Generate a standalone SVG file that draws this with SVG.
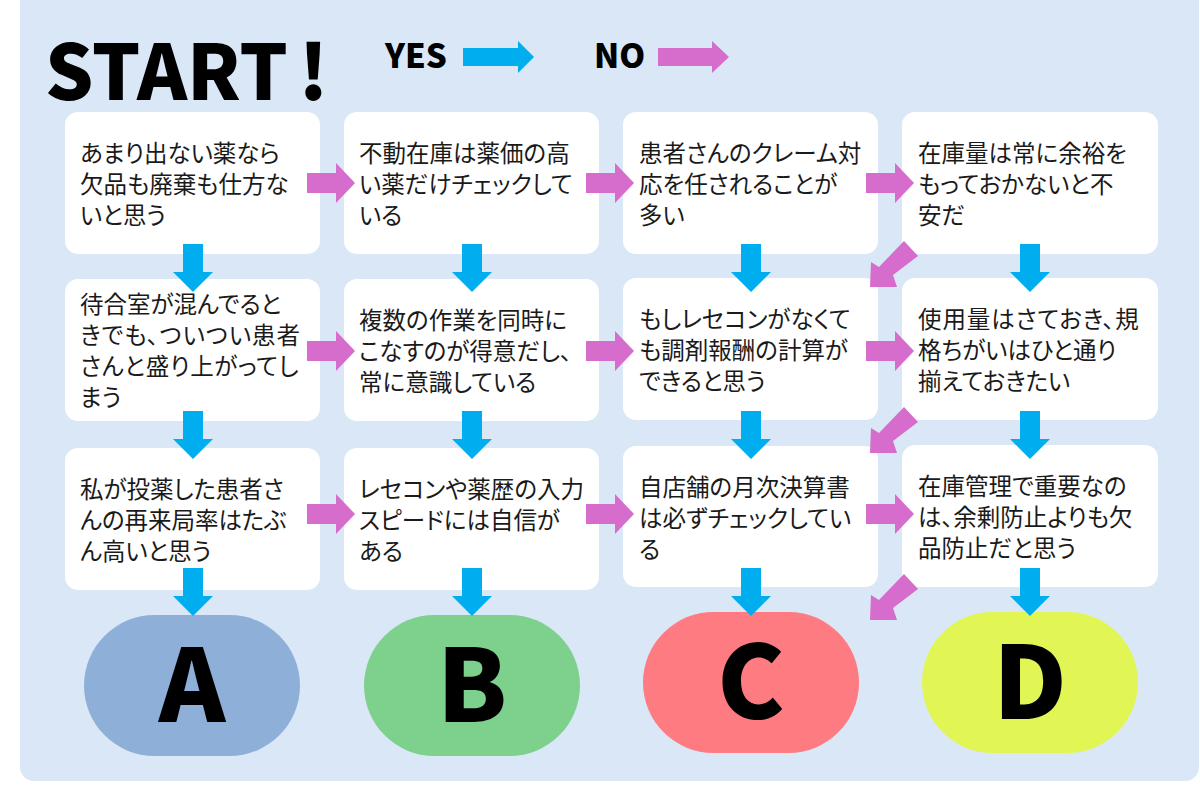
<svg xmlns="http://www.w3.org/2000/svg" width="1200" height="806" viewBox="0 0 1200 806">
<style>
.box{fill:#fff}
.t{font-family:"Noto Sans CJK JP","Noto Sans",sans-serif;font-size:23.5px;font-weight:400;font-feature-settings:"palt";fill:#1a1a1a}
.h{font-family:"Noto Sans CJK JP","Noto Sans",sans-serif;font-weight:900;fill:#000}
.b{fill:#00aef0}
.p{fill:#d66ccb}
.l{font-size:101px;text-anchor:middle}
</style>
<defs>
<polygon id="r" class="p" points="0,-10 29,-10 29,-20 48,0 29,20 29,10 0,10"/>
<polygon id="d" class="b" points="-10,0 10,0 10,28 20,28 0,48 -20,28 -10,28"/>
<polygon id="g" class="p" points="34,-46 48,-31 23,-12 27,0 0,0 1,-25 9,-20"/>
</defs>
<rect width="1200" height="806" fill="#fff"/>
<rect id="panel" x="20" y="-20" width="1179" height="801" rx="14" fill="#dae7f6"/>
<text class="h" x="45" y="100" font-size="76" word-spacing="-7">START !</text>
<g id="legend">
<text class="h" x="385" y="68" font-size="33">YES</text>
<text class="h" x="594" y="68" font-size="33">NO</text>
<polygon class="b" points="463,48 518,48 518,41 534,57 518,73 518,66 463,66"/>
<polygon class="p" points="658,48 712,48 712,41 729,57 712,73 712,66 658,66"/>
</g>
<g id="n1"><rect class="box" x="65" y="112" width="255" height="142" rx="13"/><text class="t"><tspan x="80" y="162">あまり出ない薬なら</tspan><tspan x="80" y="193">欠品も廃棄も仕方な</tspan><tspan x="80" y="224">いと思う</tspan></text></g>
<g id="n2"><rect class="box" x="344" y="112" width="255" height="142" rx="13"/><text class="t"><tspan x="359" y="162">不動在庫は薬価の高</tspan><tspan x="359" y="193">い薬だけチェックして</tspan><tspan x="359" y="224">いる</tspan></text></g>
<g id="n3"><rect class="box" x="623" y="112" width="255" height="142" rx="13"/><text class="t"><tspan x="639" y="162">患者さんのクレーム対</tspan><tspan x="639" y="193">応を任されることが</tspan><tspan x="639" y="224">多い</tspan></text></g>
<g id="n4"><rect class="box" x="902" y="112" width="256" height="142" rx="13"/><text class="t"><tspan x="918" y="162">在庫量は常に余裕を</tspan><tspan x="918" y="193">もっておかないと不</tspan><tspan x="918" y="224">安だ</tspan></text></g>
<g id="n5"><rect class="box" x="65" y="279" width="255" height="142" rx="13"/><text class="t"><tspan x="80" y="313">待合室が混んでると</tspan><tspan x="80" y="344" letter-spacing="1">きでも、ついつい患者</tspan><tspan x="80" y="375" letter-spacing="0.7">さんと盛り上がってし</tspan><tspan x="80" y="406">まう</tspan></text></g>
<g id="n6"><rect class="box" x="344" y="279" width="255" height="142" rx="13"/><text class="t"><tspan x="359" y="329">複数の作業を同時に</tspan><tspan x="359" y="360">こなすのが得意だし、</tspan><tspan x="359" y="391">常に意識している</tspan></text></g>
<g id="n7"><rect class="box" x="623" y="278" width="255" height="142" rx="13"/><text class="t"><tspan x="639" y="328">もしレセコンがなくて</tspan><tspan x="639" y="359">も調剤報酬の計算が</tspan><tspan x="639" y="390">できると思う</tspan></text></g>
<g id="n8"><rect class="box" x="902" y="278" width="256" height="142" rx="13"/><text class="t"><tspan x="918" y="328" letter-spacing="0.9">使用量はさておき、規</tspan><tspan x="918" y="359">格ちがいはひと通り</tspan><tspan x="918" y="390">揃えておきたい</tspan></text></g>
<g id="n9"><rect class="box" x="65" y="448" width="255" height="142" rx="13"/><text class="t"><tspan x="80" y="498">私が投薬した患者さ</tspan><tspan x="80" y="529">んの再来局率はたぶ</tspan><tspan x="80" y="560">ん高いと思う</tspan></text></g>
<g id="n10"><rect class="box" x="344" y="448" width="255" height="142" rx="13"/><text class="t"><tspan x="359" y="498">レセコンや薬歴の入力</tspan><tspan x="359" y="529">スピードには自信が</tspan><tspan x="359" y="560">ある</tspan></text></g>
<g id="n11"><rect class="box" x="623" y="446" width="255" height="141" rx="13"/><text class="t"><tspan x="639" y="496">自店舗の月次決算書</tspan><tspan x="639" y="527">は必ずチェックしてい</tspan><tspan x="639" y="558">る</tspan></text></g>
<g id="n12"><rect class="box" x="902" y="445" width="256" height="142" rx="13"/><text class="t"><tspan x="918" y="495">在庫管理で重要なの</tspan><tspan x="918" y="526">は、余剰防止よりも欠</tspan><tspan x="918" y="557">品防止だと思う</tspan></text></g>
<g id="A"><rect x="84" y="615" width="216" height="141" rx="70.5" fill="#8eb0d8"/><text class="h l" x="192" y="722">A</text></g>
<g id="B"><rect x="364" y="615" width="216" height="141" rx="70.5" fill="#7dd18d"/><text class="h l" x="472" y="722">B</text></g>
<g id="C"><rect x="643" y="612" width="216" height="141" rx="70.5" fill="#ff7b82"/><text class="h l" x="751" y="719">C</text></g>
<g id="D"><rect x="922" y="612" width="216" height="141" rx="70.5" fill="#e1f655"/><text class="h l" x="1030" y="719">D</text></g>
<g id="connectors">
<use href="#r" x="307" y="183"/><use href="#r" x="586" y="183"/><use href="#r" x="866" y="183"/>
<use href="#r" x="307" y="351"/><use href="#r" x="586" y="351"/><use href="#r" x="866" y="351"/>
<use href="#r" x="307" y="514"/><use href="#r" x="586" y="514"/><use href="#r" x="866" y="514"/>
<use href="#d" x="193" y="244"/><use href="#d" x="472" y="244"/><use href="#d" x="751" y="244"/><use href="#d" x="1030" y="244"/>
<use href="#d" x="193" y="411"/><use href="#d" x="472" y="411"/><use href="#d" x="751" y="411"/><use href="#d" x="1030" y="411"/>
<use href="#d" x="193" y="568"/><use href="#d" x="472" y="568"/><use href="#d" x="751" y="568"/><use href="#d" x="1030" y="568"/>
<use href="#g" x="870" y="287"/><use href="#g" x="870" y="453"/><use href="#g" x="870" y="620"/>
</g>
</svg>
